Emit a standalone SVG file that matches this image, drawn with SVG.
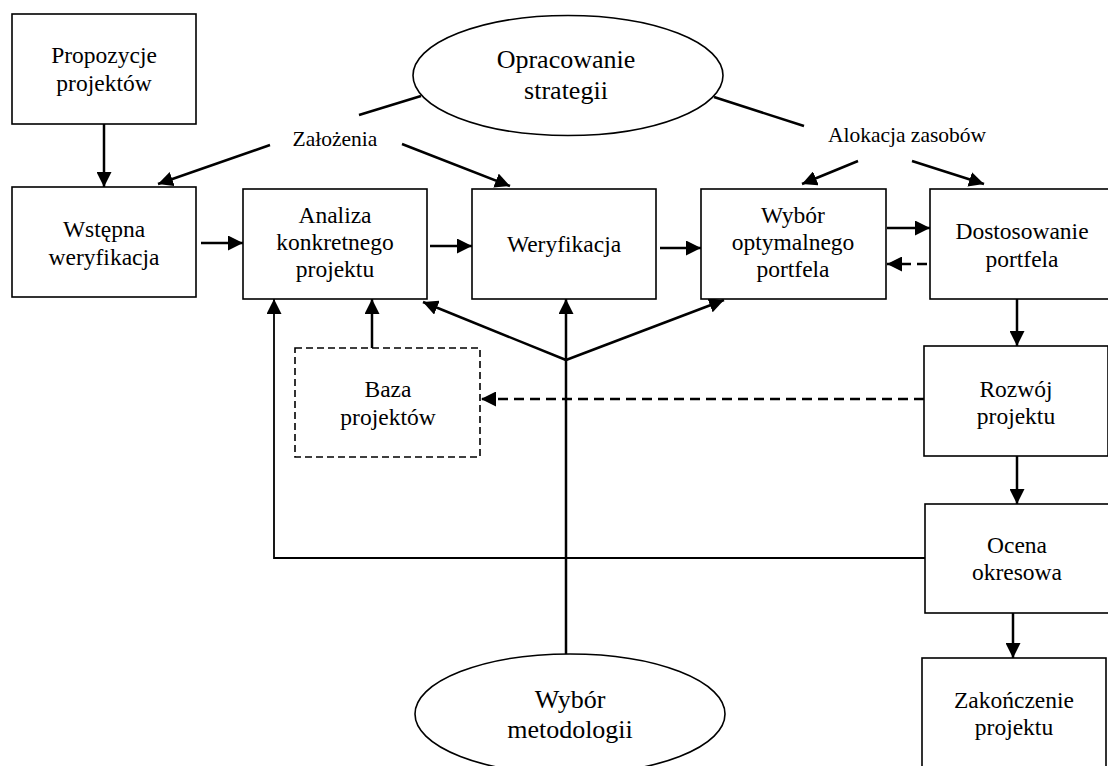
<svg xmlns="http://www.w3.org/2000/svg" width="1108" height="766" viewBox="0 0 1108 766">
<style>
.box{fill:#fff;stroke:#000;stroke-width:1.6}
.dbox{fill:#fff;stroke:#000;stroke-width:1.6;stroke-dasharray:7,4}
.ell{fill:#fff;stroke:#000;stroke-width:1.6}
.t{font-family:"Liberation Serif","Times New Roman",serif;font-size:23.5px;fill:#000;text-anchor:middle}
.te{font-family:"Liberation Serif","Times New Roman",serif;font-size:26px;fill:#000;text-anchor:middle}
.tl{font-family:"Liberation Serif","Times New Roman",serif;font-size:21.5px;fill:#000;text-anchor:middle}
.c{fill:none;stroke:#000;stroke-width:2.5}
.cthin{fill:none;stroke:#000;stroke-width:1.8}
.cd{fill:none;stroke:#000;stroke-width:2.5;stroke-dasharray:10,6}
</style>
<defs>
<marker id="ah" markerUnits="userSpaceOnUse" markerWidth="15" markerHeight="15" refX="15" refY="7.5" orient="auto">
<path d="M0,0 L15,7.5 L0,15 z" fill="#000"/>
</marker>
</defs>
<rect width="1108" height="766" fill="#fff"/>
<g id="connectors">
<line class="c" x1="104" y1="124" x2="104" y2="187" marker-end="url(#ah)"/>
<line class="c" x1="201" y1="243" x2="243" y2="243" marker-end="url(#ah)"/>
<line class="c" x1="430" y1="246" x2="472" y2="246" marker-end="url(#ah)"/>
<line class="c" x1="660" y1="248" x2="701" y2="248" marker-end="url(#ah)"/>
<line class="c" x1="887" y1="228" x2="930" y2="228" marker-end="url(#ah)"/>
<line class="cd" x1="927" y1="264" x2="887" y2="264" marker-end="url(#ah)"/>
<line class="c" x1="1017" y1="299" x2="1017" y2="346" marker-end="url(#ah)"/>
<line class="c" x1="1017" y1="456" x2="1017" y2="504" marker-end="url(#ah)"/>
<line class="c" x1="1013" y1="613" x2="1013" y2="658" marker-end="url(#ah)"/>
<polyline class="cthin" points="925,558 274,558 274,299" marker-end="url(#ah)"/>
<line class="c" x1="372" y1="348" x2="372" y2="299" marker-end="url(#ah)"/>
<line class="cd" x1="924" y1="399" x2="481" y2="399" marker-end="url(#ah)"/>
<line class="c" x1="566" y1="654" x2="566" y2="299" marker-end="url(#ah)"/>
<line class="c" x1="566" y1="360" x2="423" y2="302" marker-end="url(#ah)"/>
<line class="c" x1="566" y1="360" x2="724" y2="300" marker-end="url(#ah)"/>
<line class="c" x1="421" y1="96" x2="359" y2="115"/>
<line class="c" x1="270" y1="145" x2="158" y2="184" marker-end="url(#ah)"/>
<line class="c" x1="402" y1="144" x2="510" y2="186" marker-end="url(#ah)"/>
<line class="c" x1="714" y1="97" x2="804" y2="126"/>
<line class="c" x1="858" y1="161" x2="802" y2="184" marker-end="url(#ah)"/>
<line class="c" x1="912" y1="161" x2="984" y2="184" marker-end="url(#ah)"/>
</g>
<g id="label-zalozenia"><text class="tl" x="335" y="146">Założenia</text></g>
<g id="label-alokacja"><text class="tl" x="907" y="142">Alokacja zasobów</text></g>
<g id="opracowanie">
<ellipse class="ell" cx="568" cy="75.5" rx="155" ry="60"/>
<text class="te" x="566" y="68">Opracowanie</text>
<text class="te" x="566" y="99">strategii</text>
</g>
<g id="metodologia">
<ellipse class="ell" cx="570" cy="714" rx="155" ry="60"/>
<text class="te" x="570" y="708">Wybór</text>
<text class="te" x="570" y="738">metodologii</text>
</g>
<g id="propozycje">
<rect class="box" x="12" y="14" width="184" height="110"/>
<text class="t" x="104" y="63">Propozycje</text>
<text class="t" x="104" y="91">projektów</text>
</g>
<g id="wstepna">
<rect class="box" x="12" y="187" width="184" height="110"/>
<text class="t" x="104" y="237">Wstępna</text>
<text class="t" x="104" y="265">weryfikacja</text>
</g>
<g id="analiza">
<rect class="box" x="243" y="189" width="184" height="110"/>
<text class="t" x="335" y="223">Analiza</text>
<text class="t" x="335" y="250">konkretnego</text>
<text class="t" x="335" y="277">projektu</text>
</g>
<g id="weryfikacja">
<rect class="box" x="472" y="189" width="184" height="110"/>
<text class="t" x="564" y="252">Weryfikacja</text>
</g>
<g id="wybor">
<rect class="box" x="701" y="189" width="185" height="110"/>
<text class="t" x="793" y="223">Wybór</text>
<text class="t" x="793" y="250">optymalnego</text>
<text class="t" x="793" y="277">portfela</text>
</g>
<g id="dostosowanie">
<rect class="box" x="930" y="189" width="184" height="110"/>
<text class="t" x="1022" y="239">Dostosowanie</text>
<text class="t" x="1022" y="267">portfela</text>
</g>
<g id="rozwoj">
<rect class="box" x="924" y="346" width="184" height="110"/>
<text class="t" x="1016" y="397">Rozwój</text>
<text class="t" x="1016" y="424">projektu</text>
</g>
<g id="ocena">
<rect class="box" x="925" y="504" width="184" height="109"/>
<text class="t" x="1017" y="553">Ocena</text>
<text class="t" x="1017" y="580">okresowa</text>
</g>
<g id="zakonczenie">
<rect class="box" x="922" y="658" width="184" height="110"/>
<text class="t" x="1014" y="708">Zakończenie</text>
<text class="t" x="1014" y="735">projektu</text>
</g>
<g id="baza">
<rect class="dbox" x="295" y="348" width="185" height="109"/>
<text class="t" x="388" y="397">Baza</text>
<text class="t" x="388" y="425">projektów</text>
</g>
</svg>
